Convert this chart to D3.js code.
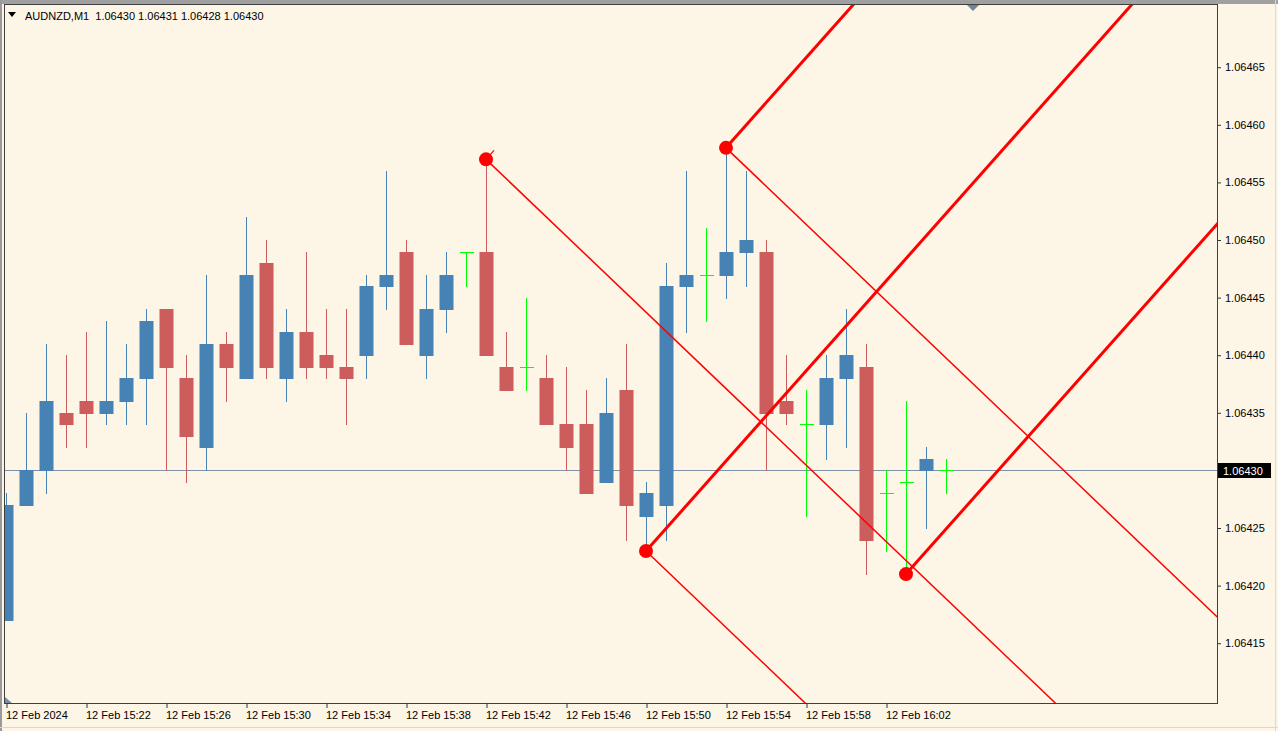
<!DOCTYPE html>
<html><head><meta charset="utf-8">
<script src="https://cdn.jsdelivr.net/npm/d3@7/dist/d3.min.js"></script>
<style>
html,body{margin:0;padding:0;background:#FDF5E6;}
svg{display:block;}
text{font-family:"Liberation Sans",Arial,sans-serif;font-size:11px;}
</style></head>
<body><svg id="c" width="1278" height="731"></svg>
<script>
// ---- data ----
const symbol = "AUDNZD,M1";
const times = ["15:18","15:19","15:20","15:21","15:22","15:23","15:24","15:25","15:26","15:27",
"15:28","15:29","15:30","15:31","15:32","15:33","15:34","15:35","15:36","15:37",
"15:38","15:39","15:40","15:41","15:42","15:43","15:44","15:45","15:46","15:47",
"15:48","15:49","15:50","15:51","15:52","15:53","15:54","15:55","15:56","15:57",
"15:58","15:59","16:00","16:01","16:02","16:03","16:04","16:05"];
const open  = [1.06417,1.06427,1.06430,1.06435,1.06436,1.06435,1.06436,1.06438,1.06444,1.06438,
1.06432,1.06441,1.06438,1.06448,1.06438,1.06442,1.06440,1.06439,1.06440,1.06446,
1.06449,1.06440,1.06444,1.06449,1.06449,1.06439,1.06439,1.06438,1.06434,1.06434,
1.06429,1.06437,1.06426,1.06427,1.06446,1.06447,1.06447,1.06449,1.06449,1.06436,
1.06434,1.06434,1.06438,1.06439,1.06428,1.06429,1.06430,1.06430];
const high  = [1.06428,1.06435,1.06441,1.06440,1.06442,1.06443,1.06441,1.06444,1.06444,1.06440,
1.06447,1.06442,1.06452,1.06450,1.06444,1.06449,1.06444,1.06444,1.06447,1.06456,
1.06450,1.06447,1.06449,1.06449,1.06457,1.06442,1.06445,1.06440,1.06439,1.06437,
1.06438,1.06441,1.06429,1.06448,1.06456,1.06451,1.06458,1.06456,1.06450,1.06440,
1.06437,1.06440,1.06444,1.06441,1.06430,1.06436,1.06432,1.06431];
const low   = [1.06417,1.06427,1.06428,1.06432,1.06432,1.06434,1.06434,1.06434,1.06430,1.06429,
1.06430,1.06436,1.06438,1.06438,1.06436,1.06438,1.06438,1.06434,1.06438,1.06444,
1.06441,1.06438,1.06442,1.06446,1.06440,1.06437,1.06437,1.06434,1.06430,1.06428,
1.06429,1.06424,1.06423,1.06424,1.06442,1.06443,1.06445,1.06446,1.06430,1.06434,
1.06426,1.06431,1.06432,1.06421,1.06423,1.06421,1.06425,1.06428];
const close = [1.06427,1.06430,1.06436,1.06434,1.06435,1.06436,1.06438,1.06443,1.06439,1.06433,
1.06441,1.06439,1.06447,1.06439,1.06442,1.06439,1.06439,1.06438,1.06446,1.06447,
1.06441,1.06444,1.06447,1.06449,1.06440,1.06437,1.06439,1.06434,1.06432,1.06428,
1.06435,1.06427,1.06428,1.06446,1.06447,1.06447,1.06449,1.06450,1.06435,1.06435,
1.06434,1.06438,1.06440,1.06424,1.06428,1.06429,1.06431,1.06430];
const priceTicks = [1.06415,1.06420,1.06425,1.06430,1.06435,1.06440,1.06445,1.06450,1.06455,1.06460,1.06465];
const timeTickIndex = [0,4,8,12,16,20,24,28,32,36,40,44];
const timeTickLabels = ["12 Feb 2024","12 Feb 15:22","12 Feb 15:26","12 Feb 15:30","12 Feb 15:34","12 Feb 15:38",
"12 Feb 15:42","12 Feb 15:46","12 Feb 15:50","12 Feb 15:54","12 Feb 15:58","12 Feb 16:02"];
const bidPrice = 1.06430;
// pivots (bar index, price) for the angle lines
const pivotIndex = [24, 32, 36, 45];
const pivotPrice = [1.06457, 1.06423, 1.06458, 1.06421];
const downRayPivots = [0, 1, 2];
const upRayPivots = [1, 2, 3];
const stubPivots = [0];
const downSlope = -0.00001658; // price per bar
const upSlope = 0.00001953;    // price per bar

// ---- layout ----
const svg = d3.select("#c");
const L = 4, T = 4, R = 1217, B = 703;
const x = d3.scaleLinear().domain([0, 47]).range([6, 946]);
const y = d3.scaleLinear().domain([1.06415, 1.06465]).range([643.2, 67.2]);

svg.append("rect").attr("width",1278).attr("height",731).attr("fill","#FDF5E6");
// window edges
svg.append("rect").attr("x",0).attr("y",0).attr("width",1278).attr("height",4).attr("fill","#a0a0a0");
svg.append("rect").attr("x",0).attr("y",0).attr("width",2).attr("height",731).attr("fill","#9a9a9a");
svg.append("rect").attr("x",0).attr("y",727).attr("width",1278).attr("height",1).attr("fill","#d8d8d8");
svg.append("rect").attr("x",1275).attr("y",0).attr("width",1).attr("height",731).attr("fill","#d8d8d8");

svg.append("defs").append("clipPath").attr("id","plot")
  .append("rect").attr("x",L+1).attr("y",T+1).attr("width",R-L-1).attr("height",B-T-1);
const g = svg.append("g").attr("clip-path","url(#plot)");

// bid line
g.append("line").attr("x1",L).attr("x2",R)
  .attr("y1",Math.round(y(bidPrice))+0.5).attr("y2",Math.round(y(bidPrice))+0.5)
  .attr("stroke","#7f91a5").attr("stroke-width",1);

// candles
const bars = d3.range(times.length).map(i=>({i,o:open[i],h:high[i],l:low[i],c:close[i]}));
const col = d => d.c > d.o ? "#4682B4" : (d.c < d.o ? "#CD5C5C" : "#00FF00");
const cg = g.selectAll("g.bar").data(bars).join("g");
cg.append("line")
  .attr("x1",d=>x(d.i)+0.5).attr("x2",d=>x(d.i)+0.5)
  .attr("y1",d=>Math.round(y(d.h))).attr("y2",d=>Math.round(y(d.l))+1)
  .attr("stroke",col).attr("stroke-width",1);
cg.filter(d=>d.c!==d.o).append("rect")
  .attr("x",d=>x(d.i)-6.5).attr("width",14)
  .attr("y",d=>Math.round(y(Math.max(d.o,d.c))))
  .attr("height",d=>Math.max(1,Math.round(y(Math.min(d.o,d.c)))-Math.round(y(Math.max(d.o,d.c)))+1))
  .attr("fill",col);
cg.filter(d=>d.c===d.o).append("line")
  .attr("x1",d=>x(d.i)-6).attr("x2",d=>x(d.i)+8)
  .attr("y1",d=>Math.round(y(d.o))+0.5).attr("y2",d=>Math.round(y(d.o))+0.5)
  .attr("stroke","#00FF00").attr("stroke-width",1);

// angle lines
const far = 200;
downRayPivots.forEach(p=>{
  const i0 = pivotIndex[p], p0 = pivotPrice[p];
  g.append("line").attr("x1",x(i0)).attr("y1",y(p0))
    .attr("x2",x(i0+far)).attr("y2",y(p0+downSlope*far))
    .attr("stroke","#FF0000").attr("stroke-width",1.5);
});
upRayPivots.forEach(p=>{
  const i0 = pivotIndex[p], p0 = pivotPrice[p];
  g.append("line").attr("x1",x(i0)).attr("y1",y(p0))
    .attr("x2",x(i0+far)).attr("y2",y(p0+upSlope*far))
    .attr("stroke","#FF0000").attr("stroke-width",3);
});
stubPivots.forEach(p=>{
  const i0 = pivotIndex[p], p0 = pivotPrice[p];
  g.append("line").attr("x1",x(i0)).attr("y1",y(p0))
    .attr("x2",x(i0+0.4)).attr("y2",y(p0+upSlope*0.4))
    .attr("stroke","#FF0000").attr("stroke-width",1.2);
});
g.selectAll("circle.piv").data(pivotIndex).join("circle")
  .attr("cx",(d,k)=>x(d)).attr("cy",(d,k)=>y(pivotPrice[k])).attr("r",7).attr("fill","#FF0000");

// markers
svg.append("path").attr("d","M967,5 L979,5 L973,11 Z").attr("fill","#6f8499");
svg.append("path").attr("d","M5,697 L5,703 L12,703 Z").attr("fill","#7a8ea3");

// frame
svg.append("rect").attr("x",L+0.5).attr("y",T+0.5).attr("width",R-L).attr("height",B-T)
  .attr("fill","none").attr("stroke","#404040").attr("stroke-width",1);

// right axis
const ya = svg.append("g").attr("transform",`translate(${R+1},0)`)
  .call(d3.axisRight(y).tickValues(priceTicks).tickSize(3).tickPadding(4).tickFormat(d3.format(".5f")));
ya.select(".domain").remove();
ya.selectAll("line").attr("stroke","#333");
ya.selectAll("text").attr("fill","#000").style("font-size","11px").style("font-family","Liberation Sans, Arial, sans-serif");

// bottom axis
const xa = svg.append("g").attr("transform",`translate(0.5,${B})`)
  .call(d3.axisBottom(x).tickValues(timeTickIndex).tickSize(5).tickFormat((d,k)=>timeTickLabels[k]));
xa.select(".domain").remove();
xa.selectAll("line").attr("stroke","#333");
xa.selectAll("text").attr("text-anchor","start").attr("x",-1).attr("y",8).attr("dy","0.71em")
  .attr("fill","#000").style("font-size","11px").style("font-family","Liberation Sans, Arial, sans-serif");

// current price label
const by = Math.round(y(bidPrice));
svg.append("rect").attr("x",R+1).attr("y",by-7).attr("width",53).attr("height",15).attr("fill","#000");
svg.append("text").attr("x",R+6).attr("y",by+4.5).attr("fill","#fff").text(d3.format(".5f")(bidPrice));

// header
svg.append("path").attr("d","M8,12 L16,12 L12,17 Z").attr("fill","#000");
svg.append("text").attr("x",25).attr("y",20).attr("fill","#000")
  .text(`${symbol}  ${d3.format(".5f")(open[47])} ${d3.format(".5f")(high[47])} ${d3.format(".5f")(low[47])} ${d3.format(".5f")(close[47])}`)
  .attr("xml:space","preserve").style("white-space","pre");
</script></body></html>
